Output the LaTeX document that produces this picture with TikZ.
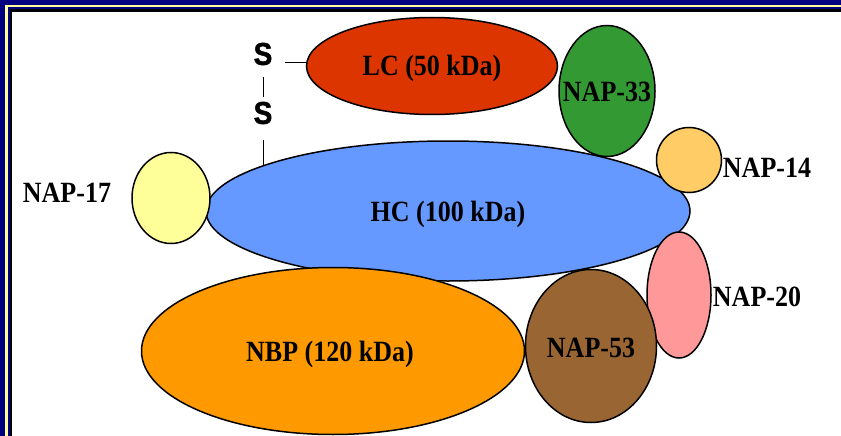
\documentclass[tikz,border=0pt]{standalone}
\usepackage{fontspec}
\setmainfont{Liberation Serif}
\newfontfamily\sulffont[FakeBold=1.5]{Liberation Sans Bold}
\usetikzlibrary{shapes.geometric}
\definecolor{framenavy}{HTML}{000080}
\definecolor{frameyellow}{HTML}{FFFF99}
\definecolor{lcred}{HTML}{DC3500}
\definecolor{napgreen}{HTML}{339933}
\definecolor{hcblue}{HTML}{6699FF}
\definecolor{napyellow}{HTML}{FFFF99}
\definecolor{naporange}{HTML}{FFCC66}
\definecolor{nappink}{HTML}{FF9999}
\definecolor{napbrown}{HTML}{996633}
\definecolor{nborange}{HTML}{FF9900}
\newcommand\tallbox[1]{\scalebox{1}[1.13]{#1}}
\begin{document}
\begin{tikzpicture}[x=1pt,y=-1pt,
  blob/.style={ellipse, draw=black, line width=1.5pt, inner sep=0pt},
  lbl/.style={inner sep=0pt, font=\fontsize{26}{28}\selectfont\bfseries},
  sulf/.style={inner sep=0pt, font=\sulffont\fontsize{28}{30}\selectfont},
  bond/.style={line width=1pt}]
\useasboundingbox (0,0) rectangle (841,436);
% frame (top and left only visible)
\fill[framenavy] (0,0) rectangle (841,436);
\fill[frameyellow] (5,5) rectangle (841,436);
\fill[framenavy] (7.5,7.5) rectangle (841,436);
\fill[black] (9.5,9.5) rectangle (841,436);
\fill[white] (12,12) rectangle (841,436);
% molecules
\node[blob, fill=lcred, minimum width=251pt, minimum height=97pt,
  label={[lbl, yshift=-2pt]center:\tallbox{LC (50 kDa)}}] (lc) at (432,66) {};
\node[blob, fill=napgreen, minimum width=96pt, minimum height=131pt,
  label={[lbl, yshift=-1pt]center:\tallbox{NAP-33}}] (n33) at (607,91) {};
\node[blob, fill=hcblue, minimum width=484pt, minimum height=140pt,
  label={[lbl, yshift=-3pt]center:\tallbox{HC (100 kDa)}}] (hc) at (448,211) {};
\node[blob, fill=napyellow, minimum width=78pt, minimum height=91pt] (n17) at (171,198) {};
\node[blob, fill=naporange, minimum width=65pt, minimum height=65pt] (n14) at (689,160) {};
\node[blob, fill=nborange, minimum width=383pt, minimum height=167pt,
  label={[lbl, yshift=-3pt, xshift=-3pt]center:\tallbox{NBP (120 kDa)}}] (nbp) at (333,351) {};
\node[blob, fill=nappink, minimum width=64pt, minimum height=126pt] (n20) at (679,295) {};
\node[blob, fill=napbrown, minimum width=131pt, minimum height=153pt,
  label={[lbl, yshift=-2pt]center:\tallbox{NAP-53}}] (n53) at (591,346) {};
% outside labels
\node[lbl] (l17) at (67,193) {\tallbox{NAP-17}};
\node[lbl] (l14) at (767,168) {\tallbox{NAP-14}};
\node[lbl] (l20) at (757,297) {\tallbox{NAP-20}};
% disulfide bridge
\node[sulf] (s1) at (263,54) {\tallbox{S}};
\node[sulf] (s2) at (263,113) {\tallbox{S}};
\coordinate (b1) at (285,63);
\coordinate (hctop) at (263,166);
\draw[bond] (b1) -- (b1 -| lc.west);
\draw[bond, shorten <=12pt, shorten >=5pt] (s1.south) -- (s2.north);
\draw[bond, shorten <=16pt] (s2.south) -- (hctop);
\end{tikzpicture}
\end{document}
